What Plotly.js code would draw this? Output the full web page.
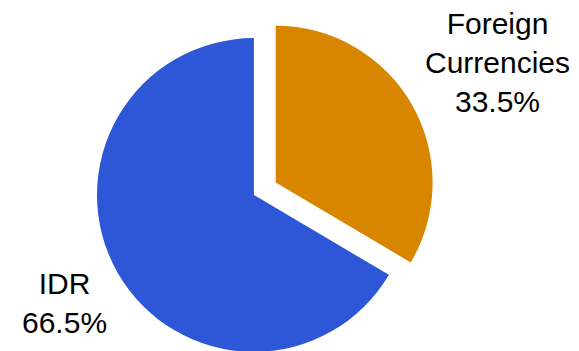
<!DOCTYPE html>
<html>
<head>
<meta charset="utf-8">
<script src="https://cdn.plot.ly/plotly-3.0.1.min.js"></script>
<style>
html,body{margin:0;padding:0;overflow:hidden;background:#fff;}
#chart{width:579px;height:380px;}
</style>
</head>
<body>
<div id="chart"></div>
<script>
const labels = ["Foreign<br>Currencies", "IDR"];
const values = [33.5, 66.5];
const colors = ["#D88500", "#2D57D6"];
const pulls = [0.16, 0];

const labelPos = [
  {x: 0.859, y: 0.865},
  {x: 0.112, y: 0.203}
];

const annotations = labels.map((l, i) => ({
  text: l + "<br>" + values[i].toFixed(1) + "%",
  xref: "paper", yref: "paper",
  x: labelPos[i].x, y: labelPos[i].y,
  xanchor: "center", yanchor: "middle",
  showarrow: false,
  font: {family: "Liberation Sans, Arial, sans-serif", size: 30, color: "#000"}
}));

Plotly.newPlot("chart", [{
  type: "pie",
  labels: labels,
  values: values,
  sort: false,
  direction: "clockwise",
  rotation: 0,
  pull: pulls,
  textinfo: "none",
  hoverinfo: "label+percent",
  marker: {colors: colors, line: {width: 0}},
  domain: {x: [0, 0.877], y: [0, 1]},
  showlegend: false
}], {
  width: 579, height: 380,
  margin: {l: 0, r: 0, t: 13, b: 3},
  paper_bgcolor: "#fff",
  showlegend: false,
  annotations: annotations
}, {displayModeBar: false, staticPlot: true});
</script>
</body>
</html>
